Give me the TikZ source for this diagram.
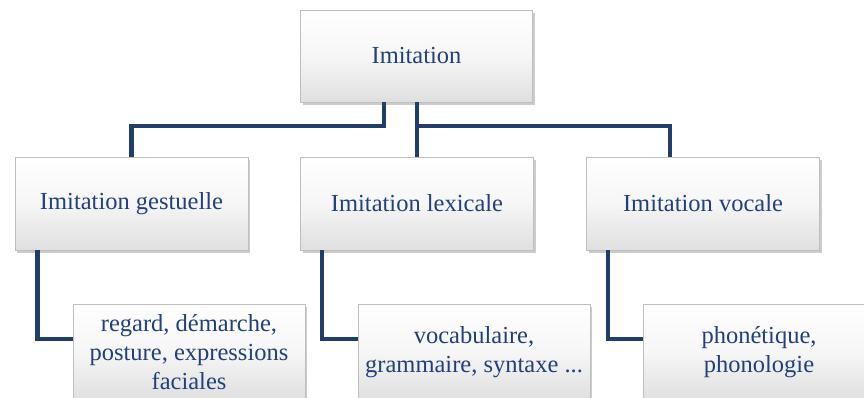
\documentclass[tikz,border=0pt]{standalone}
\usepackage{fontspec}
\setmainfont{Liberation Serif}
\usetikzlibrary{shadows,calc}
\definecolor{lineblue}{HTML}{1F3E6B}
\definecolor{textblue}{HTML}{22407A}
\begin{document}
\begin{tikzpicture}[x=1pt,y=-1pt,
  boxstyle/.style={rectangle, draw=gray!50, line width=0.6pt,
    top color=white, bottom color=gray!25, middle color=gray!7,
    drop shadow={shadow xshift=2pt, shadow yshift=-3pt, opacity=0.4},
    text=textblue, font=\fontsize{24.5}{29}\selectfont, align=center,
    inner sep=0pt},
  topbox/.style={boxstyle, minimum width=232pt, minimum height=92pt},
  childbox/.style={boxstyle, minimum width=233pt, minimum height=93pt},
  gcbox/.style={boxstyle, minimum width=232pt, minimum height=96pt},
  conn/.style={draw=lineblue, line width=4.5pt}]
\useasboundingbox (0,0) rectangle (864,398);
\node[topbox] (top) at (416.5,56) {Imitation};
\node[childbox] (c1) at (131.5,203.5) {Imitation gestuelle};
\node[childbox] (c2) at (417,203.5) {Imitation lexicale};
\node[childbox] (c3) at (703,203.5) {Imitation vocale};
\node[gcbox] (g1) at (189,352) {regard, démarche,\\posture, expressions\\faciales};
\node[gcbox] (g2) at (474,352) {vocabulaire,\\grammaire, syntaxe ...};
\node[gcbox] (g3) at (759,352) {phonétique,\\phonologie};
\coordinate (j1) at (384,126);
\coordinate (j2) at (417,126);
\draw[conn] (top.south -| j1) -- (j1) -| (c1.north);
\draw[conn] (top.south -| j2) -- (c2.north -| j2);
\draw[conn] (j2) -| ([xshift=-33pt]c3.north);
\draw[conn] ([xshift=23pt]c1.south west) |- ([yshift=13pt]g1.west);
\draw[conn] ([xshift=22pt]c2.south west) |- ([yshift=13pt]g2.west);
\draw[conn] ([xshift=22pt]c3.south west) |- ([yshift=13pt]g3.west);
\end{tikzpicture}
\end{document}
